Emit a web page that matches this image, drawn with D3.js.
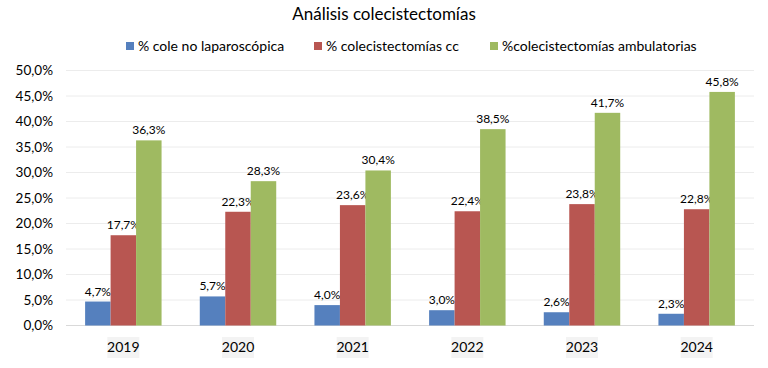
<!DOCTYPE html>
<html><head><meta charset="utf-8">
<script src="https://cdn.jsdelivr.net/npm/d3@7"></script>
<style>
body{margin:0;background:#fff;}
text{font-family:Lato,"Open Sans",sans-serif;fill:#000;}
</style></head>
<body><svg id="c" width="768" height="368"></svg>
<script>
const years = ["2019","2020","2021","2022","2023","2024"];
const seriesNames = ["% cole no laparoscópica","% colecistectomías cc","%colecistectomías ambulatorias"];
const coleNoLap = [4.7,5.7,4.0,3.0,2.6,2.3];
const coleCC = [17.7,22.3,23.6,22.4,23.8,22.8];
const coleAmb = [36.3,28.3,30.4,38.5,41.7,45.8];
const yTicks = [0,5,10,15,20,25,30,35,40,45,50];
const colors = ["#5580BE","#B85651","#9FBA61"];
const series = [coleNoLap, coleCC, coleAmb];

const svg = d3.select("#c");
const m = {l:66, r:754, t:70.5, b:325.5};
const x = d3.scaleBand().domain(years).range([m.l,m.r]).paddingInner(0.3333).paddingOuter(0.1667);
const xs = d3.scaleBand().domain([0,1,2]).range([0,x.bandwidth()]);
const y = d3.scaleLinear().domain([0,50]).range([m.b,m.t]);
const fmt = v => d3.format(".1f")(v).replace(".",",")+"%";

// grid
svg.append("g").selectAll("line").data(yTicks).join("line")
  .attr("x1",m.l).attr("x2",m.r).attr("y1",d=>y(d)).attr("y2",d=>y(d))
  .attr("stroke",d=>d===0?"#d9d9d9":"#ececec").attr("stroke-width",1);

// y axis labels
const yAxis = d3.axisLeft(y).tickValues(yTicks).tickFormat(fmt).tickSize(0).tickPadding(0);
const ga = svg.append("g").attr("transform",`translate(53,0)`).call(yAxis);
ga.select(".domain").remove();
ga.selectAll("text").style("font-size","13.5px").style("font-family","Lato,'Open Sans',sans-serif").attr("fill","#000");

// bars
series.forEach((s,i)=>{
  const g = svg.append("g");
  g.selectAll("rect").data(s).join("rect")
    .attr("x",(d,j)=>x(years[j])+xs(i)).attr("width",xs.bandwidth())
    .attr("y",d=>y(d)).attr("height",d=>y(0)-y(d))
    .attr("fill",colors[i]);
  g.selectAll("text").data(s).join("text")
    .attr("x",(d,j)=>x(years[j])+xs(i)+xs.bandwidth()/2)
    .attr("y",d=>y(d)-6).attr("text-anchor","middle")
    .style("font-size","12px").text(fmt);
});

// x labels
const xl = svg.append("g").selectAll("g").data(years).join("g")
  .attr("transform",d=>`translate(${x(d)+x.bandwidth()/2},347)`);
xl.append("rect").attr("x",-16).attr("y",-10).attr("width",32).attr("height",21).attr("fill","#f3f3f3");
xl.append("text").attr("text-anchor","middle").attr("dy","0.36em").style("font-size","14px").text(d=>d);

// title
svg.append("text").attr("x",384).attr("y",20).attr("text-anchor","middle").style("font-size","17px").text("Análisis colecistectomías");

// legend
const legX = [126,314,490];
const lg = svg.append("g").selectAll("g").data(seriesNames).join("g")
  .attr("transform",(d,i)=>`translate(${legX[i]},46)`);
lg.append("rect").attr("x",0).attr("y",-4).attr("width",8).attr("height",8).attr("fill",(d,i)=>colors[i]);
lg.append("text").attr("x",12).attr("dy","0.35em").style("font-size","14px").text(d=>d);
</script></body></html>
